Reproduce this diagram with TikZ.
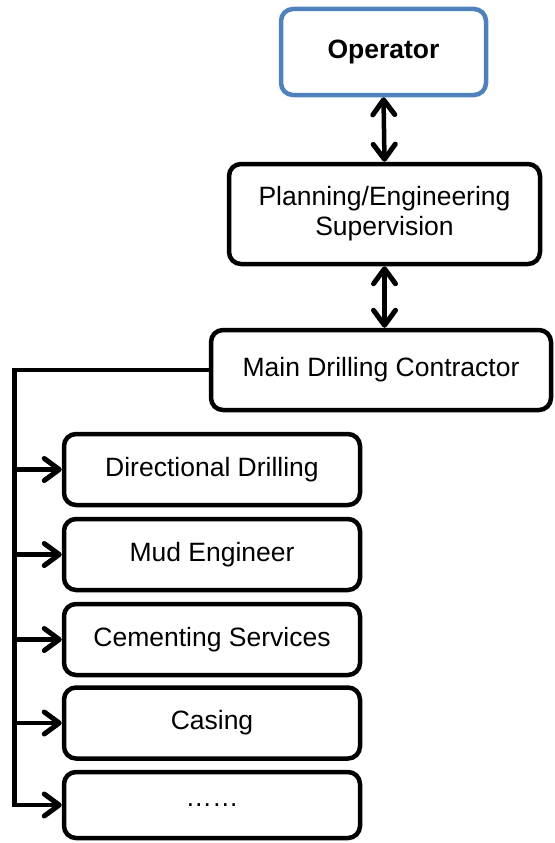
\documentclass[tikz,border=0pt]{standalone}
\usepackage{fontspec}
\setmainfont{Liberation Sans}
\usetikzlibrary{arrows.meta}
\definecolor{opblue}{RGB}{79,129,189}
\tikzset{
  textsize/.style={font=\fontsize{26.5}{30}\selectfont},
  box/.style={draw=black, line width=4.5pt, rounded corners=12pt, rectangle,
    inner sep=0pt, align=center, textsize},
  sub/.style={box, minimum width=296pt, minimum height=71pt},
  barb/.tip={Straight Barb[length=15pt,width=22pt,line width=5pt,round]},
  link/.style={line width=4.5pt, line join=miter, -barb},
  twoway/.style={line width=4.5pt, barb-barb}
}
\begin{document}
\begin{tikzpicture}[x=1pt,y=-1pt]
\useasboundingbox (0,0) rectangle (554,843);

% chain of command
\node[box, draw=opblue, minimum width=205pt, minimum height=86pt,
  font=\fontsize{26.5}{30}\selectfont\bfseries] (op) at (383.5,52) {Operator};
\node[box, minimum width=311pt, minimum height=100pt] (plan) at (384.5,214)
  {Planning/Engineering\\Supervision};
\node[box, minimum width=340pt, minimum height=80pt] (main) at (381,370)
  {Main Drilling Contractor};

% service companies
\node[sub] (dd)  at (212,469.5) {Directional Drilling};
\node[sub] (mud) at (212,554.5) {Mud Engineer};
\node[sub] (cem) at (212,639.5) {Cementing Services};
\node[sub] (cas) at (212,723)   {Casing};
\node[sub, minimum height=66pt] (etc) at (212,805) {……};

% links
\draw[twoway] (op.south) -- (plan.north);
\draw[twoway] (plan.south) -- (main.north -| plan.south);

\coordinate (bus) at (14.5,370);
\draw[link] (main.west) -- (bus) |- (etc.west);
\foreach \n in {dd,mud,cem,cas}
  \draw[link] (bus |- \n.west) -- (\n.west);
\end{tikzpicture}
\end{document}
